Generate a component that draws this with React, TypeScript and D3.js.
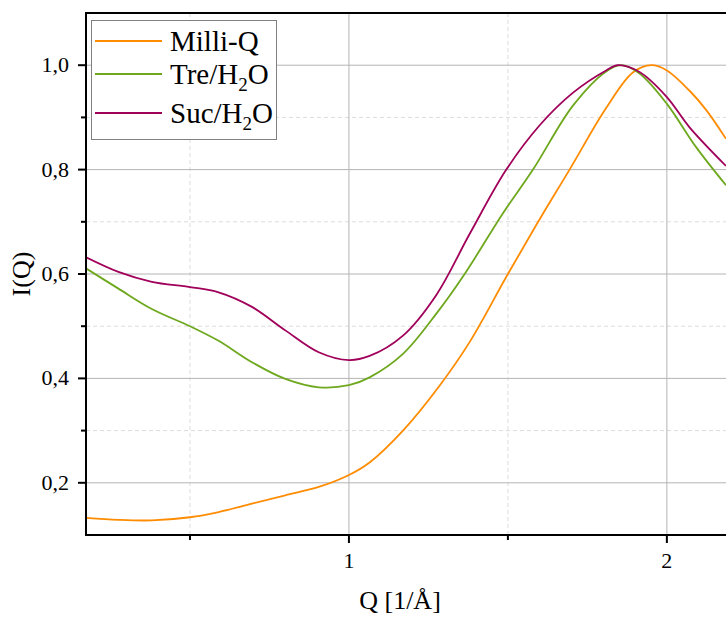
import React from "react";
import * as d3 from "d3";

const seriesNames = ["Milli-Q", "Tre/H2O", "Suc/H2O"];

const milliQ_Q = [0.17, 0.275, 0.38, 0.5, 0.59, 0.695, 0.8, 0.905, 1.0, 1.065, 1.17, 1.285, 1.38, 1.5, 1.6, 1.694, 1.809, 1.893, 1.951, 2.0, 2.07, 2.124, 2.186];
const milliQ_I = [0.133, 0.129, 0.128, 0.134, 0.144, 0.16, 0.176, 0.192, 0.215, 0.239, 0.3, 0.386, 0.47, 0.6, 0.705, 0.8, 0.918, 0.986, 1.0, 0.99, 0.952, 0.914, 0.859];

const tre_Q = [0.17, 0.275, 0.38, 0.5, 0.59, 0.695, 0.8, 0.905, 1.0, 1.065, 1.17, 1.275, 1.364, 1.484, 1.579, 1.704, 1.809, 1.856, 1.914, 2.0, 2.092, 2.186];
const tre_I = [0.612, 0.572, 0.533, 0.5, 0.472, 0.431, 0.399, 0.383, 0.387, 0.402, 0.447, 0.524, 0.6, 0.716, 0.8, 0.922, 0.988, 1.0, 0.984, 0.926, 0.843, 0.77];

const suc_Q = [0.17, 0.275, 0.38, 0.5, 0.59, 0.695, 0.8, 0.905, 1.0, 1.065, 1.17, 1.275, 1.38, 1.495, 1.6, 1.704, 1.809, 1.846, 1.914, 2.0, 2.07, 2.186];
const suc_I = [0.633, 0.604, 0.585, 0.575, 0.565, 0.537, 0.492, 0.45, 0.435, 0.443, 0.482, 0.56, 0.677, 0.8, 0.885, 0.947, 0.99, 1.0, 0.987, 0.939, 0.882, 0.807];

const xMajorTicks = [1, 2];
const xMinorTicks = [0.5, 1.5];
const yMajorTicks = [0.2, 0.4, 0.6, 0.8, 1.0];
const yMinorTicks = [0.3, 0.5, 0.7, 0.9];

const colors = ["#ff8c00", "#6ea81e", "#a0005a"];

const W = 726;
const H = 617;
const left = 86;
const right = 726;
const top = 13;
const bottom = 535;

const font = "'Liberation Serif', 'Times New Roman', 'DejaVu Serif', serif";
const ts = { fontFamily: font };

export default function App() {
  const x = d3.scaleLinear().domain([0.173, 2.186]).range([left, right]);
  const y = d3.scaleLinear().domain([0.1, 1.1]).range([bottom, top]);
  const line = d3
    .line<[number, number]>()
    .x((d) => x(d[0]))
    .y((d) => y(d[1]))
    .curve(d3.curveCatmullRom.alpha(0.5));

  const series = [
    { name: seriesNames[0], q: milliQ_Q, i: milliQ_I, color: colors[0] },
    { name: seriesNames[1], q: tre_Q, i: tre_I, color: colors[1] },
    { name: seriesNames[2], q: suc_Q, i: suc_I, color: colors[2] },
  ];

  const fmt = (v: number) => v.toFixed(1).replace(".", ",");
  const legendRows = [41, 74, 113];

  return (
    <svg
      width={W}
      height={H}
      style={{ position: "absolute", left: 0, top: 0, background: "#fff", fontFamily: font }}
    >
      <defs>
        <clipPath id="plot">
          <rect x={left} y={top} width={right - left} height={bottom - top} />
        </clipPath>
      </defs>
      <rect x={0} y={0} width={W} height={H} fill="#fff" />
      {xMinorTicks.map((t) => (
        <line key={"xm" + t} x1={x(t)} x2={x(t)} y1={top} y2={bottom} stroke="#dcdcdc" strokeWidth={1} strokeDasharray="4,3" />
      ))}
      {yMinorTicks.map((t) => (
        <line key={"ym" + t} x1={left} x2={right} y1={y(t)} y2={y(t)} stroke="#dcdcdc" strokeWidth={1} strokeDasharray="4,3" />
      ))}
      {xMajorTicks.map((t) => (
        <line key={"xg" + t} x1={x(t)} x2={x(t)} y1={top} y2={bottom} stroke="#b4b4b4" strokeWidth={1} />
      ))}
      {yMajorTicks.map((t) => (
        <line key={"yg" + t} x1={left} x2={right} y1={y(t)} y2={y(t)} stroke="#b4b4b4" strokeWidth={1} />
      ))}
      <g clipPath="url(#plot)">
        {series.map((s) => (
          <path
            key={s.name}
            d={line(s.q.map((q, k) => [q, s.i[k]] as [number, number])) || ""}
            fill="none"
            stroke={s.color}
            strokeWidth={1.8}
          />
        ))}
      </g>
      <line x1={left} x2={right} y1={top} y2={top} stroke="#000" strokeWidth={2} />
      <line x1={left} x2={right} y1={bottom} y2={bottom} stroke="#000" strokeWidth={2} />
      <line x1={left} x2={left} y1={top - 1} y2={bottom + 1} stroke="#000" strokeWidth={2} />
      {xMajorTicks.map((t) => (
        <g key={"xt" + t}>
          <line x1={x(t)} x2={x(t)} y1={bottom} y2={bottom + 8} stroke="#000" strokeWidth={2} />
          <text x={x(t)} y={bottom + 33} textAnchor="middle" fontSize={22} style={ts}>
            {t}
          </text>
        </g>
      ))}
      {xMinorTicks.map((t) => (
        <line key={"xmt" + t} x1={x(t)} x2={x(t)} y1={bottom} y2={bottom + 5} stroke="#000" strokeWidth={2} />
      ))}
      {yMajorTicks.map((t) => (
        <g key={"yt" + t}>
          <line x1={left - 8} x2={left} y1={y(t)} y2={y(t)} stroke="#000" strokeWidth={2} />
          <text x={left - 17} y={y(t) + 7} textAnchor="end" fontSize={22} style={ts}>
            {fmt(t)}
          </text>
        </g>
      ))}
      {yMinorTicks.map((t) => (
        <line key={"ymt" + t} x1={left - 5} x2={left} y1={y(t)} y2={y(t)} stroke="#000" strokeWidth={2} />
      ))}
      <text x={400} y={609} textAnchor="middle" fontSize={26} style={ts}>
        Q [1/Å]
      </text>
      <text transform={`translate(30, ${(top + bottom) / 2}) rotate(-90)`} textAnchor="middle" fontSize={26} style={ts}>
        I(Q)
      </text>
      <rect x={91.5} y={20.5} width={185} height={119} fill="#fff" stroke="#808080" strokeWidth={1} />
      {series.map((s, k) => {
        const ly = legendRows[k];
        const parts = s.name.split("2");
        return (
          <g key={"lg" + s.name}>
            <line x1={95} x2={162} y1={ly} y2={ly} stroke={s.color} strokeWidth={1.8} />
            <text x={170} y={ly + 10} fontSize={29} style={ts}>
              {parts.length > 1 ? (
                <>
                  {parts[0]}
                  <tspan fontSize={19} dy={7}>2</tspan>
                  <tspan dy={-7}>{parts[1]}</tspan>
                </>
              ) : (
                s.name
              )}
            </text>
          </g>
        );
      })}
    </svg>
  );
}
